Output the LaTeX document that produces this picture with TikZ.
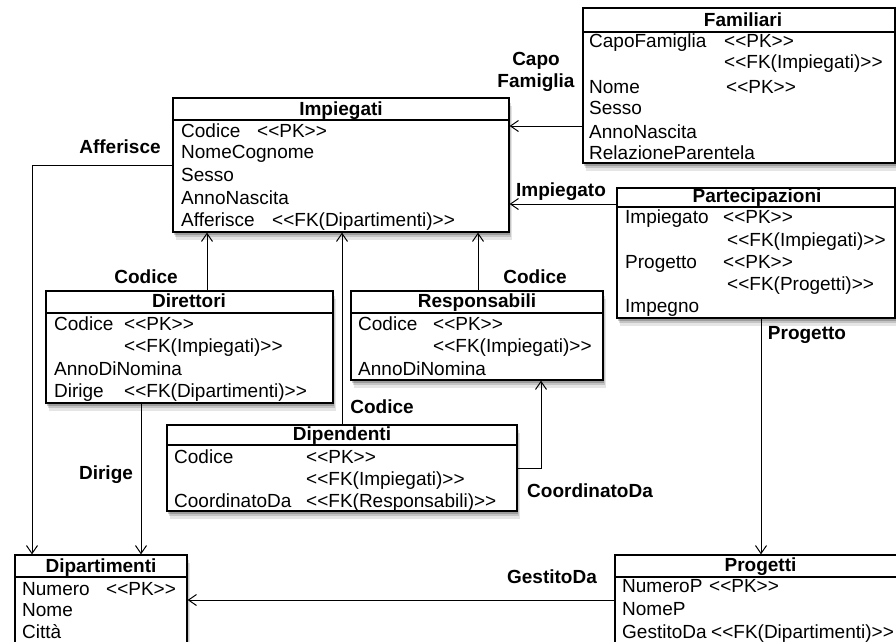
\documentclass[tikz,border=0pt]{standalone}
\usepackage{fontspec}
\newfontfamily\uf{Liberation Sans}
\usetikzlibrary{arrows.meta,shadows,fit}
\newcommand\fsz{\uf\fontsize{19}{22}\selectfont}
\tikzset{
  tbl/.style={draw, line width=1.2pt, fill=white, inner sep=0pt,
    general shadow={fill=black, opacity=.10, shadow xshift=3pt, shadow yshift=-8pt},
    general shadow={fill=black, opacity=.14, shadow xshift=2pt, shadow yshift=-5pt},
    general shadow={fill=black, opacity=.2, shadow xshift=1pt, shadow yshift=-2.5pt}},
  hdr/.style={line width=1.2pt},
  ttl/.style={font=\fsz\bfseries, anchor=base, inner sep=0pt},
  row/.style={font=\fsz, anchor=base west, inner sep=0pt},
  lbl/.style={font=\fsz\bfseries, anchor=base, inner sep=0pt},
  fk/.style={line width=1pt, -{Straight Barb[length=8pt,width=11pt]}}
}
\begin{document}
\begin{tikzpicture}[x=1pt,y=-1pt]
\useasboundingbox[fill=white] (0,0) rectangle (896,641);

% ---------- boxes ----------
\node[tbl, fit={(583,8) (895,163)}] (fam) {};
\node[tbl, fit={(173,98) (509,232)}] (imp) {};
\node[tbl, fit={(617,188) (895,318)}] (par) {};
\node[tbl, fit={(46,291) (333,403)}] (dir) {};
\node[tbl, fit={(351,291) (603,380)}] (res) {};
\node[tbl, fit={(167,425) (517,511)}] (dpd) {};
\node[tbl, fit={(15,555) (187,660)}] (dip) {};
\node[tbl, fit={(615,555) (906,660)}] (pro) {};

% header lines
\draw[hdr] (fam.west |- 0,32) -- (fam.east |- 0,32);
\draw[hdr] (imp.west |- 0,120) -- (imp.east |- 0,120);
\draw[hdr] (par.west |- 0,207) -- (par.east |- 0,207);
\draw[hdr] (dir.west |- 0,313) -- (dir.east |- 0,313);
\draw[hdr] (res.west |- 0,313) -- (res.east |- 0,313);
\draw[hdr] (dpd.west |- 0,445) -- (dpd.east |- 0,445);
\draw[hdr] (dip.west |- 0,577) -- (dip.east |- 0,577);
\draw[hdr] (pro.west |- 0,577) -- (pro.east |- 0,577);

% ---------- Familiari ----------
\node[ttl] (fam-t) at (743,26) {Familiari};
\node[row] (fam-1a) at (589,47) {CapoFamiglia};
\node[row] (fam-1b) at (724,47) {<<PK>>};
\node[row] (fam-2b) at (724,68) {<<FK(Impiegati)>>};
\node[row] (fam-3a) at (589,93) {Nome};
\node[row] (fam-3b) at (726,93) {<<PK>>};
\node[row] (fam-4a) at (589,114) {Sesso};
\node[row] (fam-5a) at (589,138) {AnnoNascita};
\node[row] (fam-6a) at (589,159) {RelazioneParentela};

% ---------- Impiegati ----------
\node[ttl] (imp-t) at (341,115) {Impiegati};
\node[row] (imp-1a) at (181,137.5) {Codice};
\node[row] (imp-1b) at (257,137.5) {<<PK>>};
\node[row] (imp-2a) at (181,158) {NomeCognome};
\node[row] (imp-3a) at (181,181.5) {Sesso};
\node[row] (imp-4a) at (181,204) {AnnoNascita};
\node[row] (imp-5a) at (181,226.5) {Afferisce};
\node[row] (imp-5b) at (272,226.5) {<<FK(Dipartimenti)>>};

% ---------- Partecipazioni ----------
\node[ttl] (par-t) at (757,202) {Partecipazioni};
\node[row] (par-1a) at (625,223.5) {Impiegato};
\node[row] (par-1b) at (723,223.5) {<<PK>>};
\node[row] (par-2b) at (727,246.5) {<<FK(Impiegati)>>};
\node[row] (par-3a) at (625,268.5) {Progetto};
\node[row] (par-3b) at (723,268.5) {<<PK>>};
\node[row] (par-4b) at (727,290.5) {<<FK(Progetti)>>};
\node[row] (par-5a) at (625,312) {Impegno};

% ---------- Direttori ----------
\node[ttl] (dir-t) at (189,307) {Direttori};
\node[row] (dir-1a) at (54,330) {Codice};
\node[row] (dir-1b) at (124,330) {<<PK>>};
\node[row] (dir-2b) at (124,352) {<<FK(Impiegati)>>};
\node[row] (dir-3a) at (54,375) {AnnoDiNomina};
\node[row] (dir-4a) at (54,397) {Dirige};
\node[row] (dir-4b) at (124,397) {<<FK(Dipartimenti)>>};

% ---------- Responsabili ----------
\node[ttl] (res-t) at (477,307) {Responsabili};
\node[row] (res-1a) at (358,330) {Codice};
\node[row] (res-1b) at (433,330) {<<PK>>};
\node[row] (res-2b) at (433,352.5) {<<FK(Impiegati)>>};
\node[row] (res-3a) at (358,375) {AnnoDiNomina};

% ---------- Dipendenti ----------
\node[ttl] (dpd-t) at (342,440) {Dipendenti};
\node[row] (dpd-1a) at (174,463) {Codice};
\node[row] (dpd-1b) at (306,463) {<<PK>>};
\node[row] (dpd-2b) at (306,485) {<<FK(Impiegati)>>};
\node[row] (dpd-3a) at (174,507.5) {CoordinatoDa};
\node[row] (dpd-3b) at (306,507.5) {<<FK(Responsabili)>>};

% ---------- Dipartimenti ----------
\node[ttl] (dip-t) at (101,572) {Dipartimenti};
\node[row] (dip-1a) at (22,595) {Numero};
\node[row] (dip-1b) at (106,595) {<<PK>>};
\node[row] (dip-2a) at (22,616.5) {Nome};
\node[row] (dip-3a) at (22,638) {Città};

% ---------- Progetti ----------
\node[ttl] (pro-t) at (760.5,571) {Progetti};
\node[row] (pro-1a) at (622,592.5) {NumeroP};
\node[row] (pro-1b) at (709,592.5) {<<PK>>};
\node[row] (pro-2a) at (622,615) {NomeP};
\node[row] (pro-3a) at (622,638) {GestitoDa};
\node[row] (pro-3b) at (711,638) {<<FK(Dipartimenti)>>};

% ---------- connectors ----------
\draw[fk] (fam.west |- 0,126) -- (imp.east |- 0,126);
\draw[fk] (par.west |- 0,204) -- (imp.east |- 0,204);
\draw[fk] (imp.west |- 0,165) -| (dip.north -| 32,0);
\draw[fk] (dir.north -| 207,0) -- (imp.south -| 207,0);
\draw[fk] (dpd.north -| 342,0) -- (imp.south -| 342,0);
\draw[fk] (res.north -| 478,0) -- (imp.south -| 478,0);
\draw[fk] (dpd.east |- 0,468) -| (res.south -| 541,0);
\draw[fk] (dir.south -| 141,0) -- (dip.north -| 141,0);
\draw[fk] (par.south -| 761,0) -- (pro.north -| 761,0);
\draw[fk] (pro.west |- 0,600) -- (dip.east |- 0,600);

% ---------- connector labels ----------
\node[lbl] (l-capo1) at (536,65) {Capo};
\node[lbl] (l-capo2) at (536,87) {Famiglia};
\node[lbl] (l-imp) at (561,196) {Impiegato};
\node[lbl] (l-aff) at (120,153) {Afferisce};
\node[lbl] (l-cod1) at (146,283) {Codice};
\node[lbl] (l-cod2) at (535,283) {Codice};
\node[lbl] (l-cod3) at (382,413) {Codice};
\node[lbl] (l-coord) at (590,497) {CoordinatoDa};
\node[lbl] (l-dir) at (106,479) {Dirige};
\node[lbl] (l-prog) at (807,339) {Progetto};
\node[lbl] (l-gest) at (552,583) {GestitoDa};
\end{tikzpicture}
\end{document}
